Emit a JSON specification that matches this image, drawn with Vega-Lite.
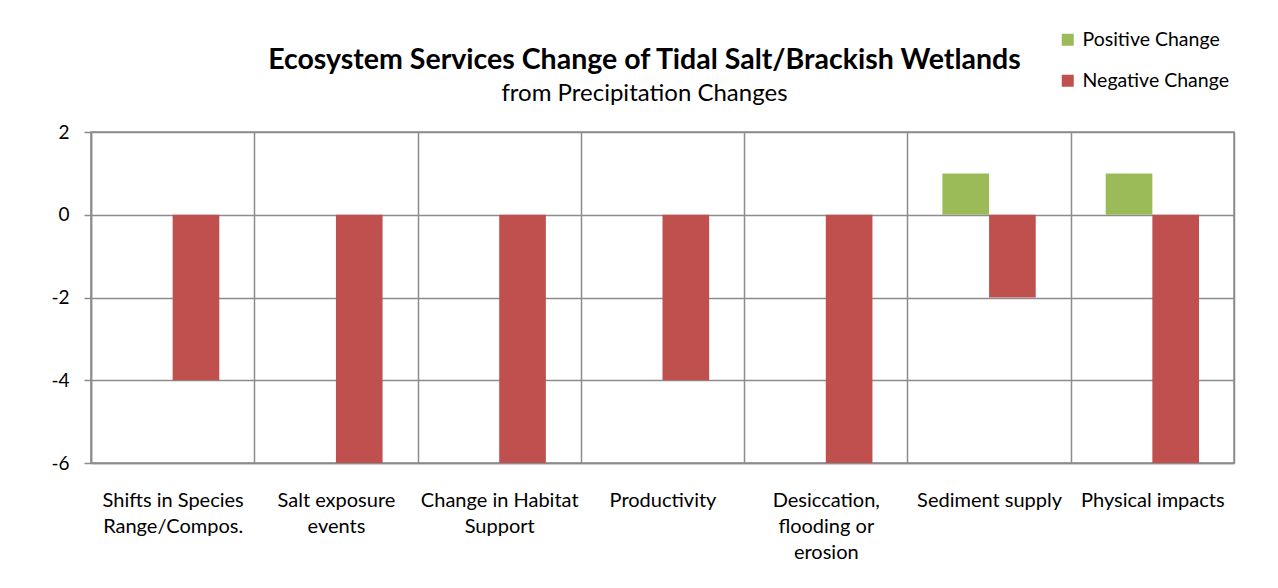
{
  "$schema": "https://vega.github.io/schema/vega-lite/v6.json",
  "width": 1143,
  "height": 331,
  "autosize": {"type": "none"},
  "padding": {"left": 91, "top": 132, "right": 44, "bottom": 125},
  "background": "white",
  "config": {
    "font": "Lato",
    "view": {"stroke": "#8c8c8c", "strokeWidth": 1.5},
    "axis": {"labelColor": "black", "labelFont": "Lato"}
  },
  "title": {
    "text": "Ecosystem Services Change of Tidal Salt/Brackish Wetlands",
    "subtitle": "from Precipitation Changes",
    "font": "Lato",
    "fontSize": 28.5,
    "fontWeight": "bold",
    "color": "black",
    "subtitleFont": "Lato",
    "subtitleFontSize": 24,
    "subtitleColor": "black",
    "subtitlePadding": 8,
    "anchor": "middle",
    "frame": "group",
    "dx": -18,
    "offset": -76
  },
  "data": {
    "values": [
      {"service": "Shifts in Species|Range/Compos.", "change": "Positive Change", "value": 0},
      {"service": "Shifts in Species|Range/Compos.", "change": "Negative Change", "value": -4},
      {"service": "Salt exposure|events", "change": "Positive Change", "value": 0},
      {"service": "Salt exposure|events", "change": "Negative Change", "value": -6},
      {"service": "Change in  Habitat|Support", "change": "Positive Change", "value": 0},
      {"service": "Change in  Habitat|Support", "change": "Negative Change", "value": -6},
      {"service": "Productivity", "change": "Positive Change", "value": 0},
      {"service": "Productivity", "change": "Negative Change", "value": -4},
      {"service": "Desiccation,|flooding or|erosion", "change": "Positive Change", "value": 0},
      {"service": "Desiccation,|flooding or|erosion", "change": "Negative Change", "value": -6},
      {"service": "Sediment supply", "change": "Positive Change", "value": 1},
      {"service": "Sediment supply", "change": "Negative Change", "value": -2},
      {"service": "Physical impacts", "change": "Positive Change", "value": 1},
      {"service": "Physical impacts", "change": "Negative Change", "value": -6}
    ]
  },
  "mark": {"type": "bar"},
  "encoding": {
    "x": {
      "field": "service",
      "type": "nominal",
      "sort": null,
      "scale": {"paddingInner": 0, "paddingOuter": 0},
      "axis": {
        "title": null,
        "labelAngle": 0,
        "labelExpr": "split(datum.label, '|')",
        "labelFontSize": 20,
        "labelLineHeight": 26,
        "labelPadding": 27,
        "ticks": false,
        "tickSize": 0,
        "tickBand": "extent",
        "grid": true,
        "gridColor": "#8c8c8c",
        "gridWidth": 1.5,
        "domainColor": "#8c8c8c",
        "domainWidth": 1.5,
        "labelLimit": 0
      }
    },
    "xOffset": {
      "field": "change",
      "type": "nominal",
      "sort": ["Positive Change", "Negative Change"],
      "scale": {"paddingInner": 0, "paddingOuter": 0.75}
    },
    "y": {
      "field": "value",
      "type": "quantitative",
      "scale": {"domain": [-6, 2], "nice": false},
      "axis": {
        "title": null,
        "values": [-6, -4, -2, 0, 2],
        "labelExpr": "'' + datum.value",
        "labelFontSize": 19,
        "labelPadding": 15,
        "tickSize": 7,
        "tickColor": "#8c8c8c",
        "tickWidth": 1.5,
        "domainColor": "#8c8c8c",
        "domainWidth": 1.5,
        "grid": true,
        "gridColor": "#8c8c8c",
        "gridWidth": 1.5,
        "gridOpacity": 1
      }
    },
    "color": {
      "field": "change",
      "type": "nominal",
      "scale": {"domain": ["Positive Change", "Negative Change"], "range": ["#9BBB59", "#C0504D"]},
      "legend": {
        "title": null,
        "orient": "none",
        "legendX": 967,
        "legendY": -102,
        "symbolType": "square",
        "symbolSize": 144,
        "symbolStrokeWidth": 0,
        "symbolOpacity": 1,
        "labelFontSize": 19.5,
        "labelColor": "black",
        "labelFont": "Lato",
        "rowPadding": 20,
        "padding": 0,
        "labelOffset": 5
      }
    }
  }
}
